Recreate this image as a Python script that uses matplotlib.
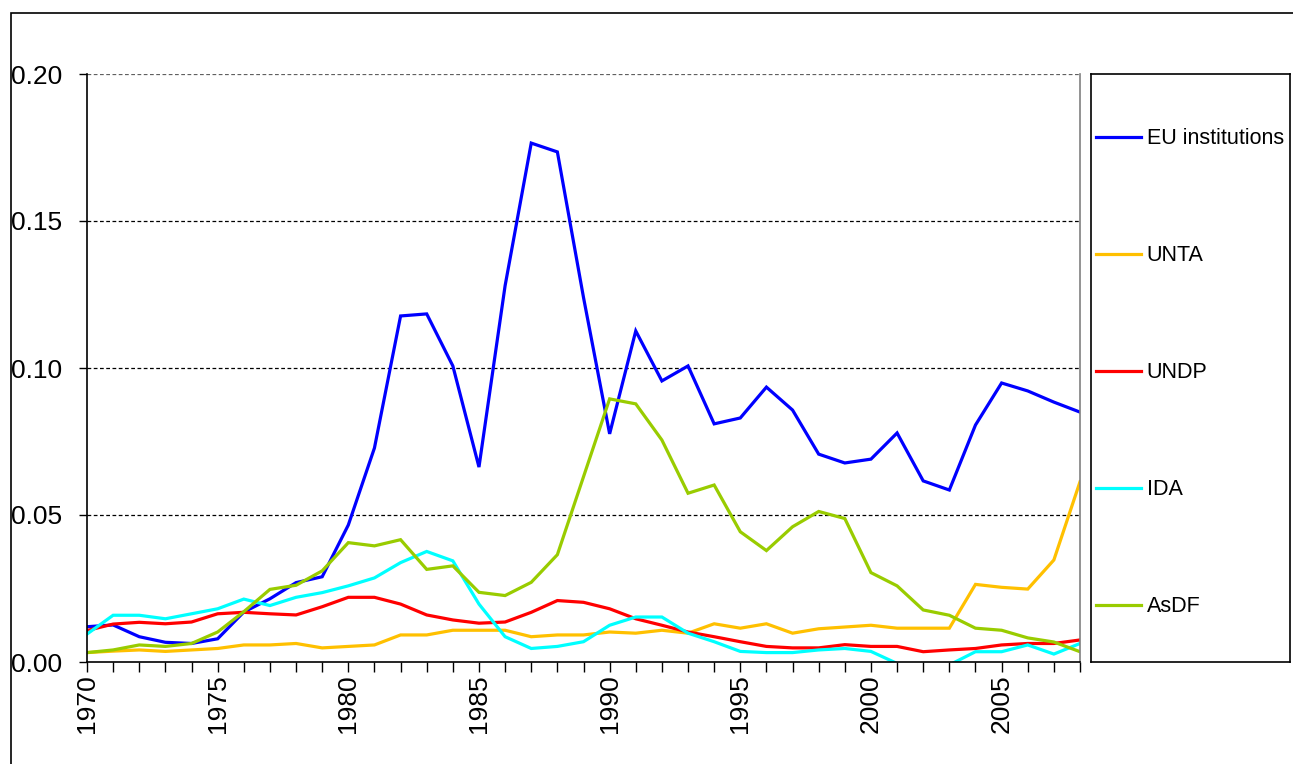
import matplotlib
matplotlib.use("Agg")
import matplotlib.pyplot as plt
from matplotlib.patches import Rectangle

plt.rcParams['font.family'] = ['Liberation Sans', 'DejaVu Sans']

years = list(range(1970, 2009))

eu_institutions = [0.0120, 0.0126, 0.0086, 0.0067, 0.0063, 0.0079, 0.0170, 0.0215, 0.0270, 0.0290,
                   0.0466, 0.0728, 0.1177, 0.1184, 0.1007, 0.0663, 0.1280, 0.1765, 0.1735, 0.1240,
                   0.0776, 0.1126, 0.0956, 0.1007, 0.0810, 0.0830, 0.0935, 0.0857, 0.0707, 0.0677,
                   0.0690, 0.0779, 0.0616, 0.0585, 0.0806, 0.0949, 0.0922, 0.0884, 0.0850]
unta = [0.0032, 0.0037, 0.0041, 0.0036, 0.0041, 0.0046, 0.0058, 0.0058, 0.0063, 0.0048,
        0.0053, 0.0058, 0.0092, 0.0092, 0.0108, 0.0108, 0.0108, 0.0086, 0.0092, 0.0092,
        0.0102, 0.0098, 0.0108, 0.0098, 0.0130, 0.0115, 0.0130, 0.0098, 0.0113, 0.0119,
        0.0125, 0.0115, 0.0115, 0.0115, 0.0264, 0.0254, 0.0248, 0.0347, 0.0613]
undp = [0.0107, 0.0129, 0.0135, 0.0130, 0.0136, 0.0164, 0.0169, 0.0164, 0.0160, 0.0188,
        0.0220, 0.0220, 0.0197, 0.0160, 0.0143, 0.0132, 0.0136, 0.0169, 0.0209, 0.0203,
        0.0181, 0.0147, 0.0125, 0.0102, 0.0086, 0.0069, 0.0053, 0.0048, 0.0048, 0.0059,
        0.0053, 0.0053, 0.0035, 0.0041, 0.0046, 0.0058, 0.0063, 0.0063, 0.0075]
ida = [0.0095, 0.0159, 0.0159, 0.0147, 0.0164, 0.0181, 0.0214, 0.0192, 0.0220, 0.0236,
       0.0259, 0.0286, 0.0338, 0.0376, 0.0344, 0.0197, 0.0086, 0.0046, 0.0053, 0.0069,
       0.0125, 0.0153, 0.0153, 0.0098, 0.0069, 0.0036, 0.0032, 0.0032, 0.0041, 0.0046,
       0.0036, -0.0005, -0.0040, -0.0010, 0.0035, 0.0035, 0.0058, 0.0027, 0.0063]
asdf = [0.0032, 0.0041, 0.0058, 0.0053, 0.0063, 0.0102, 0.0171, 0.0247, 0.0261, 0.0310,
        0.0406, 0.0395, 0.0416, 0.0315, 0.0327, 0.0237, 0.0226, 0.0271, 0.0365, 0.0630,
        0.0895, 0.0878, 0.0755, 0.0574, 0.0602, 0.0443, 0.0379, 0.0460, 0.0512, 0.0488,
        0.0304, 0.0259, 0.0177, 0.0159, 0.0115, 0.0108, 0.0082, 0.0068, 0.0035]

series_names = ["EU institutions", "UNTA", "UNDP", "IDA", "AsDF"]
series_values = [eu_institutions, unta, undp, ida, asdf]
series_colors = ["#0000FF", "#FFC000", "#FF0000", "#00FFFF", "#99CC00"]

y_ticks = [0.00, 0.05, 0.10, 0.15, 0.20]
y_ticklabels = ["0.00", "0.05", "0.10", "0.15", "0.20"]

W, H = 1293, 764
fig = plt.figure(figsize=(W / 100, H / 100), dpi=100)
fig.patch.set_facecolor("white")

ax = fig.add_axes([87 / W, (H - 662) / H, (1080 - 87) / W, (662 - 74) / H])

for name, vals, col in zip(series_names, series_values, series_colors):
    ax.plot(years, vals, color=col, lw=2.3, label=name, solid_joinstyle="miter")

ax.set_xlim(1970, 2008)
ax.set_ylim(0, 0.20)

ax.set_yticks(y_ticks)
ax.set_yticklabels(y_ticklabels)
ax.set_xticks(years)
ax.set_xticklabels([str(y) if y % 5 == 0 else "" for y in years], rotation=90)

ax.tick_params(axis="y", direction="out", length=6, width=1, labelsize=19, pad=12, colors="black")
ax.tick_params(axis="x", direction="out", length=7, width=1, labelsize=19, pad=2, colors="black")

for yv in y_ticks[1:]:
    ax.axhline(yv, color="black" if yv < 0.2 else "#606060", lw=0.9, ls=(0, (3, 2)), zorder=0.5)

ax.spines["top"].set_visible(False)
ax.spines["right"].set_color("#808080")
ax.spines["right"].set_linewidth(1.2)
ax.spines["left"].set_color("black")
ax.spines["left"].set_linewidth(1.2)
ax.spines["bottom"].set_color("black")
ax.spines["bottom"].set_linewidth(1.2)

# legend box
lax = fig.add_axes([1091 / W, (H - 662) / H, (1290 - 1091) / W, (662 - 74) / H])
lax.set_xticks([])
lax.set_yticks([])
for s in lax.spines.values():
    s.set_color("black")
    s.set_linewidth(1.2)
handles, labels = ax.get_legend_handles_labels()
leg = lax.legend(handles, labels, loc="center left", bbox_to_anchor=(0.0, 0.492),
                 frameon=False, fontsize=15.5, labelspacing=4.46, handlelength=2.05,
                 handletextpad=0.28, borderaxespad=0.25, borderpad=0)
for h in leg.get_lines():
    h.set_linewidth(2.3)

# outer chart frame
fig.add_artist(Rectangle((11 / W, -0.1), 2.0, (H - 13) / H + 0.1, transform=fig.transFigure,
                         fill=False, ec="black", lw=1.2))

fig.savefig("out.png", dpi=100)
